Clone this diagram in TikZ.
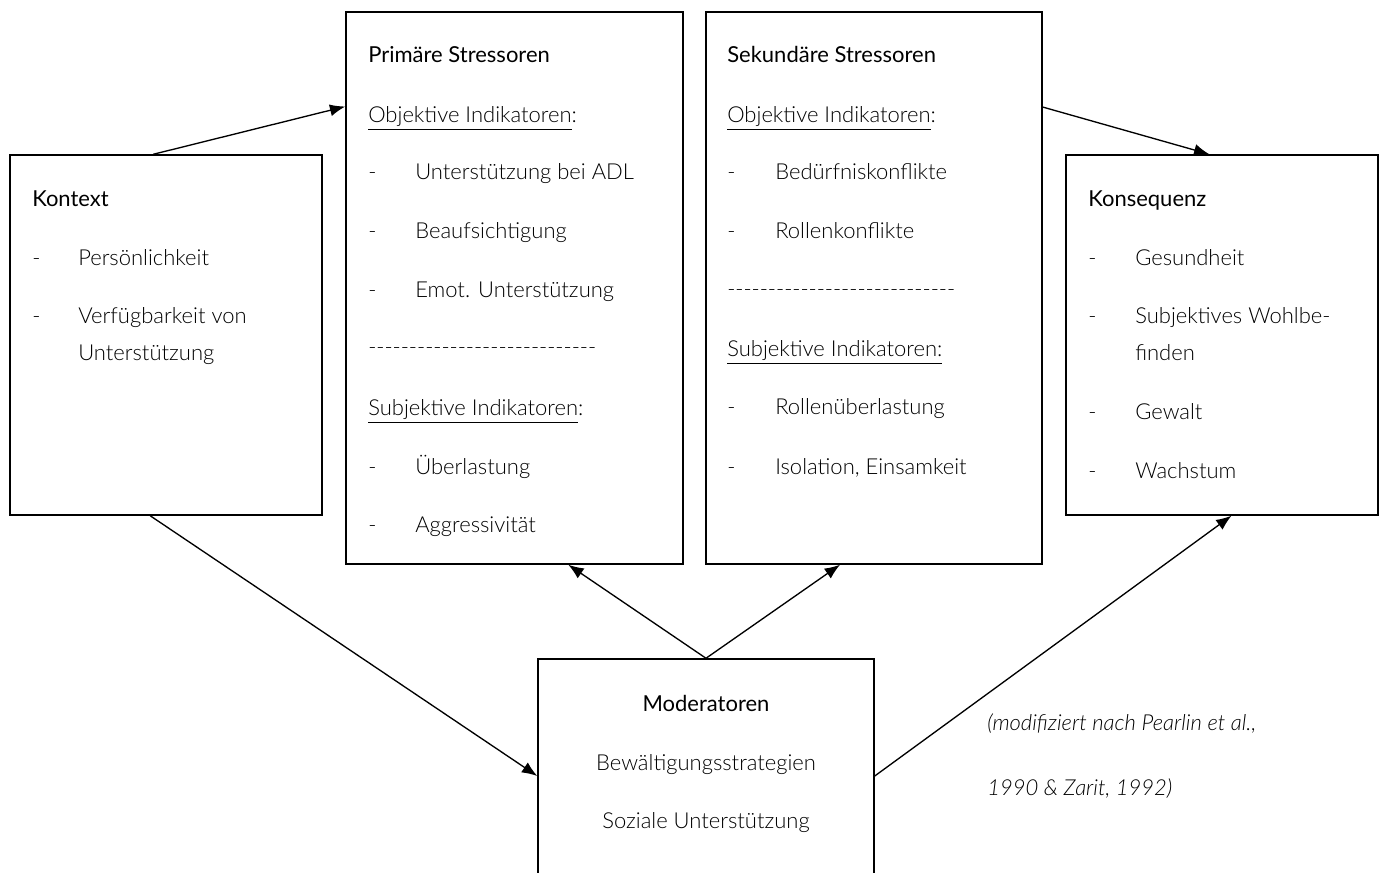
\documentclass[tikz,border=0pt]{standalone}
\usepackage{fontspec}
\setmainfont{Lato}[UprightFont=* Light, ItalicFont=* Light Italic, BoldFont=*, BoldItalicFont=* Italic]
\usetikzlibrary{arrows.meta, fit, positioning}

\newcommand{\dashrow}{\foreach \i in {1,...,28}{-\kern0pt}}
\newcommand{\entry}[5]{%
  \node[txt] (#1d) at (#2,#4) {-};
  \node[txt] (#1) at (#3,#4) {#5};}

\begin{document}
\begin{tikzpicture}[
      x=0.75pt, y=-0.75pt,
      box/.style={draw, line width=1.1pt, inner sep=0pt},
      txt/.style={anchor=base west, inner sep=0pt, font=\fontsize{16.5}{20}\selectfont},
      head/.style={txt, font=\fontsize{16.5}{20}\selectfont\bfseries},
      ctxt/.style={txt, anchor=base},
      chead/.style={head, anchor=base},
      note/.style={txt, font=\fontsize{16.5}{20}\selectfont\itshape},
      line/.style={draw, -{Latex[length=11.5pt, width=9pt]}, line width=1pt}
  ]
  \useasboundingbox (0,0) rectangle (1381,873);

  % boxes
  \node[box, fit={(10,155) (322,515)}] (kontext) {};
  \node[box, fit={(346,12) (683,564)}] (primaer) {};
  \node[box, fit={(706,12) (1042,564)}] (sekundaer) {};
  \node[box, fit={(1066,155) (1378,515)}] (konsequenz) {};
  \node[box, fit={(538,659) (874,893)}] (moderatoren) {};

  % Kontext
  \node[head] (kontextT) at (32,207) {Kontext};
  \entry{k1}{32}{78}{266}{Persönlichkeit}
  \entry{k2}{32}{78}{324}{Verfügbarkeit von}
  \node[txt] (k2b) at (78,361) {Unterstützung};

  % Primaere Stressoren
  \node[head] (primaerT) at (368,63) {Primäre Stressoren};
  \node[txt] (p0) at (368,123) {\underline{Objektive Indikatoren}:};
  \entry{p1}{368}{415}{180}{Unterstützung bei ADL}
  \entry{p2}{368}{415}{239}{Beaufsichtigung}
  \entry{p3}{368}{415}{298}{Emot. Unterstützung}
  \node[txt] (psep) at (368,355) {\dashrow};
  \node[txt] (p4) at (368,416) {\underline{Subjektive Indikatoren}:};
  \entry{p5}{368}{415}{474}{Überlastung}
  \entry{p6}{368}{415}{532}{Aggressivität}

  % Sekundaere Stressoren
  \node[head] (sekundaerT) at (727,63) {Sekundäre Stressoren};
  \node[txt] (s0) at (727,123) {\underline{Objektive Indikatoren}:};
  \entry{s1}{727}{775}{180}{Bedürfniskonflikte}
  \entry{s2}{727}{775}{239}{Rollenkonflikte}
  \node[txt] (ssep) at (727,297) {\dashrow};
  \node[txt] (s3) at (727,357) {\underline{Subjektive Indikatoren:}};
  \entry{s4}{727}{775}{415}{Rollenüberlastung}
  \entry{s5}{727}{775}{474}{Isolation, Einsamkeit}

  % Konsequenz
  \node[head] (konsequenzT) at (1088,207) {Konsequenz};
  \entry{c1}{1088}{1135}{266}{Gesundheit}
  \entry{c2}{1088}{1135}{324}{Subjektives Wohlbe-}
  \node[txt] (c2b) at (1135,361) {finden};
  \entry{c3}{1088}{1135}{419}{Gewalt}
  \entry{c4}{1088}{1135}{478}{Wachstum}

  % Moderatoren
  \node[chead] (moderatorenT) at (706,711) {Moderatoren};
  \node[ctxt] (m1) at (706,770) {Bewältigungsstrategien};
  \node[ctxt] (m2) at (706,828) {Soziale Unterstützung};

  % Quelle
  \node[note] (quelle1) at (987,730) {(modifiziert nach Pearlin et al.,};
  \node[note] (quelle2) at (987,795) {1990 \& Zarit, 1992)};

  \path [line] (kontext.94.1) -- (primaer.133.3);
  \path [line] (sekundaer.47) -- (konsequenz.94.4);
  \path [line] (kontext.265.9) -- (moderatoren.west);
  \path [line] (moderatoren.north) -- (primaer.281);
  \path [line] (moderatoren.north) -- (sekundaer.263.6);
  \path [line] (moderatoren.east) -- (konsequenz.273.2);

\end{tikzpicture}
\end{document}
